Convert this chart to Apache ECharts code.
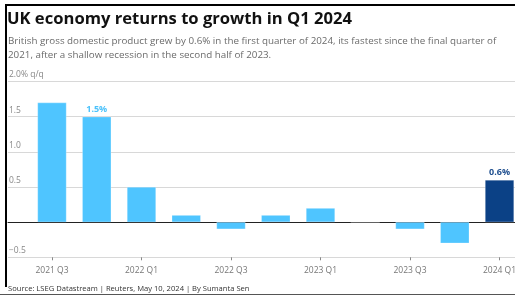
<!DOCTYPE html>
<html>
<head>
<meta charset="utf-8">
<script src="https://cdn.jsdelivr.net/npm/echarts@6/dist/echarts.min.js"></script>
<style>
    html, body { margin: 0; padding: 0; background: #fff; }
    #chart { width: 515px; height: 297px; }
</style>
</head>
<body>
<div id="chart"></div>
<script>
// quarterly GDP growth, % q/q
var quarters = ['2021 Q3', '2021 Q4', '2022 Q1', '2022 Q2', '2022 Q3', '2022 Q4',
                '2023 Q1', '2023 Q2', '2023 Q3', '2023 Q4', '2024 Q1'];
var growth = [1.7, 1.5, 0.5, 0.1, -0.1, 0.1, 0.2, 0.0, -0.1, -0.3, 0.6];
var labelled = {1: '1.5%', 10: '0.6%'};   // bars that carry a value label

var lightBlue = '#4fc5ff';
var darkBlue = '#0b4186';
var font = '"Open Sans", "Noto Sans", sans-serif';

var barData = growth.map(function(v, i) {
    var last = (i == growth.length - 1);
    var item = { value: v, itemStyle: { color: last ? darkBlue : lightBlue } };
    if (labelled[i]) {
        item.label = {
            show: true,
            position: 'top',
            distance: 3,
            formatter: labelled[i],
            color: last ? '#1f4f8f' : '#4cc2fb',
            fontWeight: 'bold',
            fontSize: 9,
            fontFamily: font
        };
    }
    return item;
});

var chart = echarts.init(document.getElementById('chart'), null, { renderer: 'canvas' });
var option = {
    animation: false,
    title: [{
        text: 'UK economy returns to growth in Q1 2024',
        left: 7, top: 11, padding: 0,
        textStyle: { fontFamily: font, fontWeight: 'bold', fontSize: 16.6, color: '#111' }
    }, {
        text: 'British gross domestic product grew by 0.6% in the first quarter of 2024, its fastest since the final quarter of\n2021, after a shallow recession in the second half of 2023.',
        left: 8, top: 34, padding: 0,
        textStyle: { fontFamily: font, fontWeight: 'normal', fontSize: 9.8, lineHeight: 14, color: '#6b6b6b' }
    }, {
        text: 'Source: LSEG Datastream | Reuters, May 10, 2024 | By Sumanta Sen',
        left: 8, top: 285, padding: 0,
        textStyle: { fontFamily: font, fontWeight: 'normal', fontSize: 7.6, color: '#333' }
    }],
    graphic: [
        { type: 'rect', shape: { x: 5, y: 4, width: 510, height: 2 }, style: { fill: '#000' } },
        { type: 'rect', shape: { x: 5, y: 4, width: 2, height: 283 }, style: { fill: '#000' } },
        { type: 'rect', shape: { x: 0, y: 294, width: 515, height: 1 }, style: { fill: '#555' } }
    ],
    grid: [
        // full width: gridlines, y labels, zero line
        { left: 8, right: 0, top: 81.5, bottom: 39.7, outerBoundsMode: 'none' },
        // bars
        { left: 29.6, width: 492.3, top: 81.5, bottom: 39.7, outerBoundsMode: 'none' }
    ],
    xAxis: [{
        gridIndex: 0, type: 'value', min: 0, max: 1,
        axisLine: { onZero: true, lineStyle: { color: '#222', width: 1 } },
        axisTick: { show: false }, axisLabel: { show: false }, splitLine: { show: false }
    }, {
        gridIndex: 1, type: 'category', data: quarters, position: 'bottom',
        axisLine: { show: true, onZero: false, lineStyle: { color: '#d8d8d8' } },
        axisTick: { show: true, length: 3, alignWithLabel: true, lineStyle: { color: '#888', width: 1 } },
        axisLabel: { interval: 1, margin: 9, fontSize: 8.5, color: '#777', fontFamily: font }
    }],
    yAxis: [{
        gridIndex: 0, type: 'value', min: -0.5, max: 2, interval: 0.5,
        axisLine: { show: false }, axisTick: { show: false },
        axisLabel: {
            inside: true, margin: 1, verticalAlign: 'bottom', padding: [0, 0, 2, 0],
            fontSize: 8.5, color: '#888', fontFamily: font,
            formatter: function(v) {
                if (v == 0) return '';
                if (v == 2) return '2.0% q/q';
                return v < 0 ? '\u2212' + (-v).toFixed(1) : v.toFixed(1);
            }
        },
        splitLine: { lineStyle: { color: '#d8d8d8', width: 1 } }
    }, {
        gridIndex: 1, type: 'value', min: -0.5, max: 2, interval: 0.5, show: false
    }],
    series: [{
        type: 'bar',
        xAxisIndex: 1, yAxisIndex: 1,
        data: barData,
        barWidth: 29,
        itemStyle: { borderColor: 'rgba(255,255,255,0.5)', borderWidth: 0.5 }
    }]
};
chart.setOption(option);
</script>
</body>
</html>
